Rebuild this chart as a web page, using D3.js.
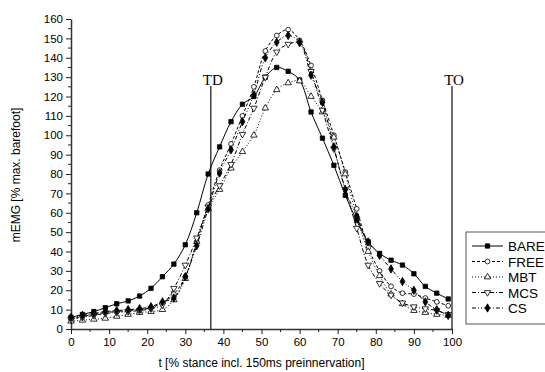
<!DOCTYPE html>
<html>
<head>
<meta charset="UTF-8">
<style>
  body { margin: 0; background: #fff; }
  svg { display: block; }
  .tick text { font-family: "Liberation Sans", Arial, sans-serif; }
</style>
</head>
<body>
<div class="chart"><svg></svg></div>
<script src="https://d3js.org/d3.v7.min.js"></script>
<script>

  let width = 545, height = 372;

  // stance time (%) sampled every 3 %
  const times = d3.range(0, 100, 3);

  const bare = [6, 7.5, 9, 11, 13, 14.5, 17, 21, 27, 33.5, 43.5, 60, 80, 94, 107, 116, 120, 130, 135, 133,
                128.5, 112, 98.5, 84.5, 69, 56, 45, 39, 35.5, 33, 28.5, 22, 18.5, 15.5];
  const free = [5, 6.5, 7.5, 8.5, 9, 9.5, 10, 11, 13.5, 18, 27, 45, 64, 82, 95.5, 110, 125, 143.5, 151.5, 154.5,
                149, 136, 118, 100, 81, 62, 42, 30, 22, 18.5, 18, 16, 14, 12];
  const mbt = [4, 4.5, 5, 5.5, 6.5, 7.5, 8.5, 9, 10, 15, 26, 45, 62, 72, 83, 91.5, 100, 114, 123.5, 127,
               128, 120, 112, 99, 80, 58, 40, 27.5, 18, 13, 9.5, 8.5, 7.5, 7];
  const mcs = [5, 6, 7, 8, 8.5, 9, 9.5, 10.5, 12.5, 21, 33, 47, 63, 74, 85, 100.5, 114, 130, 143, 147,
               147.5, 133, 113, 93, 72, 52, 33, 23.5, 17.5, 13.5, 11.5, 10.5, 9.5, 7.5];
  const cs = [6, 7, 8, 9, 9.5, 10, 10.5, 11.5, 14, 16, 27, 43, 62, 80.5, 92.5, 107, 121, 140, 148, 151.5,
              148, 131, 117, 94, 72, 58, 45, 38, 31, 24.5, 20, 14, 10, 7];

  const seriesNames = ["BARE", "FREE", "MBT", "MCS", "CS"];
  const seriesValues = [bare, free, mbt, mcs, cs];

  const xTicks = d3.range(0, 101, 10);
  const yTicks = d3.range(0, 161, 10);

  const events = [{ name: "TD", t: 36.7 }, { name: "TO", t: 100 }];

  // look of each series
  const dashes = ["none", "3,2", "1,2", "4,2,1,2", "4,2,1,2,1,2"];
  const symbols = [d3.symbolSquare, d3.symbolCircle, d3.symbolTriangle, d3.symbolTriangle, d3.symbolDiamond];
  const fills = ["#000", "#fff", "#fff", "#fff", "#000"];
  const rotate = [0, 0, 0, 180, 0];
  const symSize = [19, 18, 18, 18, 20];

  let svg = d3.select("svg")
      .attr("width", width)
      .attr("height", height);

  const x = d3.scaleLinear().domain([0, 100]).range([71, 452]);
  const y = d3.scaleLinear().domain([0, 160]).range([329, 19]);

  // axes
  const xAxis = svg.append("g")
      .attr("transform", "translate(0," + y(0) + ")")
      .call(d3.axisBottom(x).tickValues(xTicks).tickSize(5).tickSizeOuter(0).tickPadding(4));
  xAxis.selectAll(".tick text").style("font-size", "11.5px");
  xAxis.selectAll(".tick line").attr("stroke", "#222");
  xAxis.select(".domain").attr("stroke", "#333").attr("stroke-width", 1.5);
  xAxis.selectAll(".minor")
      .data(d3.range(5, 100, 10))
      .enter().append("line")
      .attr("x1", d => x(d)).attr("x2", d => x(d))
      .attr("y1", 0).attr("y2", 3)
      .attr("stroke", "#222");

  const yAxis = svg.append("g")
      .attr("transform", "translate(" + x(0) + ",0)")
      .call(d3.axisLeft(y).tickValues(yTicks).tickSize(5).tickSizeOuter(0).tickPadding(3));
  yAxis.selectAll(".tick text").style("font-size", "11.5px");
  yAxis.selectAll(".tick line").attr("stroke", "#222");
  yAxis.select(".domain").attr("stroke", "#333").attr("stroke-width", 1.5);
  yAxis.selectAll(".minor")
      .data(d3.range(5, 160, 10))
      .enter().append("line")
      .attr("y1", d => y(d)).attr("y2", d => y(d))
      .attr("x1", 0).attr("x2", -3)
      .attr("stroke", "#222");

  // axis titles
  svg.append("text")
      .attr("x", (x(0) + x(100)) / 2)
      .attr("y", 367)
      .attr("text-anchor", "middle")
      .style("font-family", "'Liberation Sans', Arial, sans-serif")
      .style("font-size", "12px")
      .text("t [% stance incl. 150ms preinnervation]");

  svg.append("text")
      .attr("transform", "translate(20," + 175 + ") rotate(-90)")
      .attr("text-anchor", "middle")
      .style("font-family", "'Liberation Sans', Arial, sans-serif")
      .style("font-size", "12px")
      .text("mEMG [% max. barefoot]");

  // touch-down / toe-off markers
  events.forEach(e => {
      svg.append("line")
          .attr("x1", x(e.t)).attr("x2", x(e.t))
          .attr("y1", 86).attr("y2", y(0))
          .attr("stroke", "#111")
          .attr("stroke-width", 1.2);
      svg.append("text")
          .attr("x", x(e.t) + 2)
          .attr("y", 85)
          .attr("text-anchor", "middle")
          .style("font-family", "'Liberation Serif', 'Times New Roman', serif")
          .style("font-size", "15px")
          .text(e.name);
  });

  const line = d3.line()
      .x((d, i) => x(times[i]))
      .y(d => y(d))
      .curve(d3.curveCatmullRom.alpha(0.5));

  function marker(g, k) {
      return g.attr("d", d3.symbol().type(symbols[k]).size(symSize[k]))
          .attr("fill", fills[k])
          .attr("stroke", "#000")
          .attr("stroke-width", 0.8);
  }

  seriesValues.forEach((vals, k) => {
      const g = svg.append("g").attr("class", "series");
      g.append("path")
          .datum(vals)
          .attr("d", line)
          .attr("fill", "none")
          .attr("stroke", "#000")
          .attr("stroke-width", 1)
          .attr("stroke-dasharray", dashes[k]);
      g.selectAll("path.pt")
          .data(vals)
          .enter().append("path")
          .attr("class", "pt")
          .attr("transform", (d, i) => "translate(" + x(times[i]) + "," + y(d) + ") rotate(" + rotate[k] + ")")
          .call(sel => marker(sel, k));
  });

  // legend
  const legend = svg.append("g").attr("transform", "translate(466,232)");
  legend.append("rect")
      .attr("x", 0).attr("y", 0)
      .attr("width", 100).attr("height", 92)
      .attr("fill", "#fff")
      .attr("stroke", "#555")
      .attr("stroke-width", 1);

  seriesNames.forEach((name, k) => {
      const row = legend.append("g").attr("transform", "translate(0," + (14 + k * 15.5) + ")");
      row.append("line")
          .attr("x1", 6).attr("x2", 37)
          .attr("stroke", "#000")
          .attr("stroke-width", 1)
          .attr("stroke-dasharray", dashes[k]);
      row.append("path")
          .attr("transform", "translate(21.5,0) rotate(" + rotate[k] + ")")
          .call(sel => marker(sel, k));
      row.append("text")
          .attr("x", 42)
          .attr("y", 5)
          .style("font-family", "'Liberation Sans', Arial, sans-serif")
          .style("font-size", "13.5px")
          .text(name);
  });

</script>
</body>
</html>
